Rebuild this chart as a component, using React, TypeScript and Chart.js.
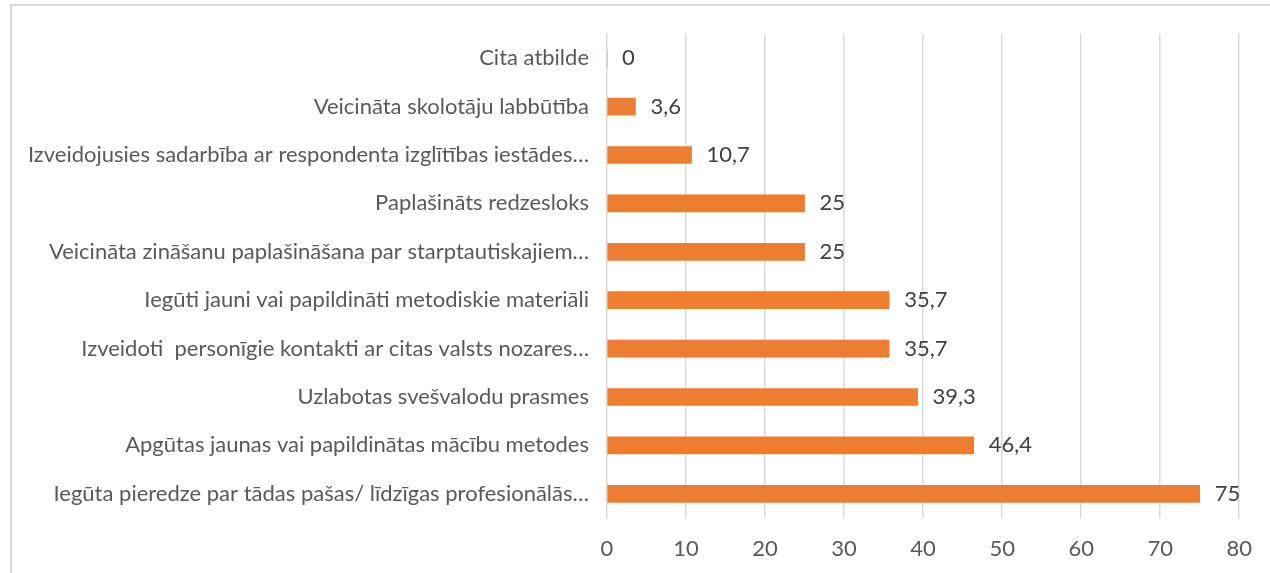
import React, { useEffect, useRef } from "react";
import { Chart, registerables } from "chart.js";

Chart.register(...registerables);

const categories: string[] = [
  "Cita atbilde",
  "Veicināta skolotāju labbūtība",
  "Izveidojusies sadarbība ar respondenta izglītības iestādes…",
  "Paplašināts redzesloks",
  "Veicināta zināšanu paplašināšana par starptautiskajiem…",
  "Iegūti jauni vai papildināti metodiskie materiāli",
  "Izveidoti  personīgie kontakti ar citas valsts nozares…",
  "Uzlabotas svešvalodu prasmes",
  "Apgūtas jaunas vai papildinātas mācību metodes",
  "Iegūta pieredze par tādas pašas/ līdzīgas profesionālās…",
];

const values: number[] = [0, 3.6, 10.7, 25, 25, 35.7, 35.7, 39.3, 46.4, 75];

const xMin = 0;
const xMax = 80;
const xStep = 10;

const FONT = "Lato, 'Noto Sans', sans-serif";
const FONT_SIZE = 22;

const valueLabelPlugin = {
  id: "valueLabels",
  afterDatasetsDraw(chart: any) {
    const ctx = chart.ctx;
    const meta = chart.getDatasetMeta(0);
    ctx.save();
    ctx.font = `${FONT_SIZE}px ${FONT}`;
    ctx.fillStyle = "#404040";
    ctx.textAlign = "left";
    ctx.textBaseline = "middle";
    meta.data.forEach((el: any, i: number) => {
      const v = values[i];
      const txt = String(v).replace(".", ",");
      ctx.fillText(txt, el.x + 15, el.y);
    });
    ctx.restore();
  },
};

export default function App() {
  const ref = useRef<HTMLCanvasElement | null>(null);

  useEffect(() => {
    if (!ref.current) return;
    const chart = new Chart(ref.current, {
      type: "bar",
      data: {
        labels: categories,
        datasets: [
          {
            data: values,
            backgroundColor: "#ED7D31",
            borderWidth: 0,
            barThickness: 17,
          },
        ],
      },
      options: {
        indexAxis: "y",
        animation: false,
        responsive: false,
        maintainAspectRatio: false,
        layout: { padding: { top: 34, right: 30, left: 0, bottom: 0 } },
        plugins: {
          legend: { display: false },
          tooltip: { enabled: false },
        },
        scales: {
          x: {
            min: xMin,
            max: xMax,
            ticks: {
              stepSize: xStep,
              color: "#595959",
              font: { family: FONT, size: FONT_SIZE },
              padding: 18,
            },
            grid: { color: "#d9d9d9", lineWidth: 1.5, drawTicks: false },
            border: { display: false },
            afterFit: (scale: any) => {
              scale.height = 55;
            },
          },
          y: {
            ticks: {
              color: "#595959",
              font: { family: FONT, size: FONT_SIZE },
              padding: 18,
              autoSkip: false,
            },
            grid: { display: false, drawTicks: false },
            border: { display: false },
            afterFit: (scale: any) => {
              scale.width = 607;
            },
          },
        },
      },
      plugins: [valueLabelPlugin],
    });
    return () => chart.destroy();
  }, []);

  return (
    <div
      style={{
        position: "fixed",
        left: 0,
        top: 0,
        width: 1270,
        height: 573,
        overflow: "hidden",
        background: "#ffffff",
      }}
    >
      <div
        style={{
          position: "absolute",
          left: 10,
          top: 4,
          width: 1400,
          height: 700,
          borderTop: "2px solid #d9d9d9",
          borderLeft: "2px solid #d9d9d9",
          boxSizing: "border-box",
        }}
      />
      <canvas
        ref={ref}
        width={1270}
        height={573}
        style={{ position: "absolute", left: 0, top: 0, width: 1270, height: 573 }}
      />
    </div>
  );
}
